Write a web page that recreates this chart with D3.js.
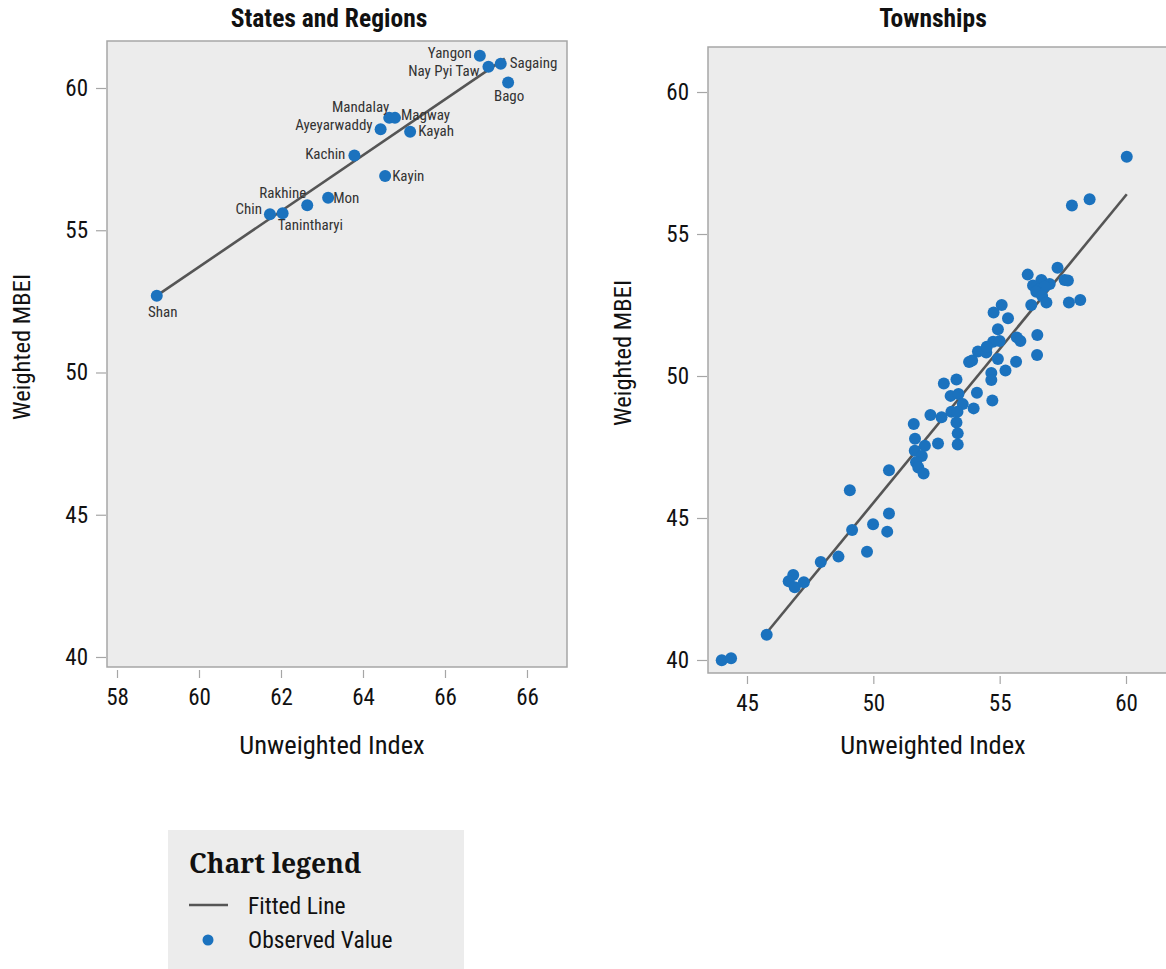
<!DOCTYPE html>
<html>
<head>
<meta charset="utf-8">
<script src="https://cdn.jsdelivr.net/npm/d3@7"></script>
<style>
  html, body { margin: 0; padding: 0; background: #ffffff; }
  svg { display: block; }
  .cond { font-family: 'Roboto Condensed', 'Liberation Sans Narrow', 'DejaVu Sans Condensed', Roboto, sans-serif; }
</style>
</head>
<body>
<svg id="chart" width="1166" height="969"></svg>
<script>
// ---------------- data ----------------
const stateNames = ["Yangon", "Nay Pyi Taw", "Sagaing", "Bago", "Mandalay", "Magway", "Ayeyarwaddy", "Kayah",
                    "Kachin", "Kayin", "Mon", "Rakhine", "Tanintharyi", "Chin", "Shan"];
const stateX = [66.85, 67.06, 67.36, 67.54, 64.64, 64.78, 64.43, 65.15, 63.79, 64.54, 63.15, 62.64, 62.04, 61.73, 58.97];
const stateY = [61.13, 60.75, 60.85, 60.19, 58.95, 58.95, 58.55, 58.46, 57.63, 56.91, 56.14, 55.88, 55.60, 55.56, 52.70];
const stateFitX = [58.97, 67.46];
const stateFitY = [52.70, 61.03];

const townX = [60.03, 58.56, 57.86, 57.29, 56.11, 56.65, 56.98, 56.32, 57.57, 57.70,
               56.56, 56.78, 56.45, 56.68, 56.85, 56.25, 57.74, 58.19, 55.08, 54.76,
               55.33, 54.93, 56.49, 55.68, 55.82, 54.74, 55.00, 56.48, 54.14, 54.47,
               54.49, 53.79, 53.91, 54.93, 55.65, 54.67, 54.67, 55.23, 53.29, 52.79,
               54.10, 54.71, 53.06, 53.37, 53.54, 53.97, 53.09, 53.33, 53.29, 53.34,
               53.34, 52.70, 52.26, 51.60, 51.65, 52.04, 52.56, 51.64, 51.92, 51.69,
               51.78, 51.99, 50.62, 49.07, 49.16, 49.99, 50.62, 50.55, 49.75, 48.62,
               47.92, 46.83, 46.65, 46.89, 47.25, 45.78, 44.00, 44.37];
const townY = [57.72, 56.22, 56.00, 53.81, 53.57, 53.38, 53.24, 53.19, 53.38, 53.36,
               53.05, 53.14, 52.97, 52.82, 52.59, 52.50, 52.59, 52.68, 52.50, 52.24,
               52.03, 51.65, 51.44, 51.36, 51.23, 51.21, 51.23, 50.74, 50.86, 50.83,
               51.03, 50.49, 50.55, 50.60, 50.50, 50.11, 49.86, 50.19, 49.88, 49.74,
               49.41, 49.14, 49.30, 49.37, 49.01, 48.86, 48.74, 48.74, 48.36, 47.98,
               47.59, 48.55, 48.63, 48.31, 47.79, 47.54, 47.62, 47.37, 47.18, 46.96,
               46.78, 46.57, 46.68, 45.98, 44.58, 44.78, 45.16, 44.52, 43.81, 43.64,
               43.45, 42.99, 42.77, 42.56, 42.74, 40.89, 39.99, 40.06];
const townFitX = [45.78, 60.03];
const townFitY = [40.96, 56.40];

const yTicks = [40, 45, 50, 55, 60];
const yTickLabels = ["40", "45", "50", "55", "60"];
const stateXTicks = [58, 60, 62, 64, 66, 68];
const stateXTickLabels = ["58", "60", "62", "64", "66", "66"];
const townXTicks = [45, 50, 55, 60];
const townXTickLabels = ["45", "50", "55", "60"];

const panelTitles = ["States and Regions", "Townships"];
const xTitle = "Unweighted Index";
const yTitle = "Weighted MBEI";
const legendTitle = "Chart legend";
const legendItems = ["Fitted Line", "Observed Value"];

// label placement (pixel offsets from the point): [dx, dy, anchor]
const stateLabelLayout = [
  [-8, -3, "end"], [-9, 4, "end"], [9, -1, "start"], [1, 13, "middle"],
  [0, -11, "end"], [6, -3, "start"], [-8, -4, "end"], [8, -1, "start"],
  [-9, -2, "end"], [7, 0, "start"], [5, 0, "start"], [-1, -12, "end"],
  [-5, 12, "start"], [-8, -6, "end"], [6, 16, "middle"]
];

// ---------------- styles ----------------
const DOT = "#1b72be";
const LINE = "#555555";
const PANEL_BG = "#ececec";
const BORDER = "#a6a6a6";
const TEXT = "#111111";

const svg = d3.select("#chart");

function panel(cfg) {
  const x = d3.scaleLinear().domain(cfg.xDomain).range([cfg.left, cfg.right]);
  const y = d3.scaleLinear().domain(cfg.yDomain).range([cfg.bottom, cfg.top]);
  const g = svg.append("g");

  g.append("rect")
    .attr("x", cfg.left).attr("y", cfg.top)
    .attr("width", cfg.right - cfg.left).attr("height", cfg.bottom - cfg.top)
    .attr("fill", PANEL_BG).attr("stroke", BORDER).attr("stroke-width", 1.5);

  // y axis
  const yAxis = d3.axisLeft(y).tickValues(yTicks).tickSize(10).tickPadding(8)
    .tickFormat((d, i) => cfg.yTickLabels[i]);
  const ya = g.append("g").attr("transform", `translate(${cfg.left - 1},0)`).call(yAxis);
  ya.select(".domain").remove();
  ya.selectAll(".tick line").attr("stroke", BORDER).attr("stroke-width", 1.2);
  ya.selectAll(".tick text").attr("class", "cond").attr("font-size", 23).attr("fill", TEXT);

  // x axis
  const xAxis = d3.axisBottom(x).tickValues(cfg.xTicks).tickSize(8).tickPadding(11)
    .tickFormat((d, i) => cfg.xTickLabels[i]);
  const xa = g.append("g").attr("transform", `translate(0,${cfg.bottom + 3})`).call(xAxis);
  xa.select(".domain").remove();
  xa.selectAll(".tick line").attr("stroke", BORDER).attr("stroke-width", 1.2);
  xa.selectAll(".tick text").attr("class", "cond").attr("font-size", 23).attr("fill", TEXT);

  // titles
  g.append("text").attr("class", "cond")
    .attr("x", cfg.titleX).attr("y", 27)
    .attr("text-anchor", "middle").attr("font-weight", "bold").attr("font-size", 25.5)
    .attr("fill", TEXT).text(cfg.title);
  g.append("text").attr("class", "cond")
    .attr("x", (cfg.left + cfg.right) / 2 - 5).attr("y", 754)
    .attr("text-anchor", "middle").attr("font-size", 26.5).attr("fill", TEXT).text(xTitle);
  g.append("text").attr("class", "cond")
    .attr("transform", `translate(${cfg.yTitleX},${(cfg.top + cfg.bottom) / 2 - 7}) rotate(-90)`)
    .attr("text-anchor", "middle").attr("font-size", 24.5).attr("fill", TEXT).text(yTitle);

  // fitted line
  const line = d3.line().x(d => x(d[0])).y(d => y(d[1]));
  g.append("path")
    .datum(cfg.fitX.map((v, i) => [v, cfg.fitY[i]]))
    .attr("d", line).attr("fill", "none").attr("stroke", LINE).attr("stroke-width", 2.6);

  // points
  const pts = cfg.px.map((v, i) => ({x: v, y: cfg.py[i], i}));
  g.append("g").selectAll("circle").data(pts).join("circle")
    .attr("cx", d => x(d.x)).attr("cy", d => y(d.y)).attr("r", 6)
    .attr("fill", DOT);

  if (cfg.names) {
    g.append("g").selectAll("text").data(pts).join("text")
      .attr("class", "cond")
      .attr("x", d => x(d.x) + cfg.layout[d.i][0])
      .attr("y", d => y(d.y) + cfg.layout[d.i][1])
      .attr("dy", "0.35em")
      .attr("text-anchor", d => cfg.layout[d.i][2])
      .attr("font-size", 15).attr("fill", "#333333")
      .text(d => cfg.names[d.i]);
  }
}

panel({
  left: 107, right: 567, top: 41, bottom: 667,
  xDomain: [57.756, 68.976], yDomain: [39.648, 61.652],
  xTicks: stateXTicks, xTickLabels: stateXTickLabels, yTickLabels: yTickLabels,
  title: panelTitles[0], titleX: 329, yTitleX: 30,
  fitX: stateFitX, fitY: stateFitY, px: stateX, py: stateY,
  names: stateNames, layout: stateLabelLayout
});

panel({
  left: 708, right: 1168, top: 47, bottom: 673,
  xDomain: [43.457, 61.662], yDomain: [39.542, 61.585],
  xTicks: townXTicks, xTickLabels: townXTickLabels, yTickLabels: yTickLabels,
  title: panelTitles[1], titleX: 933, yTitleX: 631,
  fitX: townFitX, fitY: townFitY, px: townX, py: townY
});

// legend
const lg = svg.append("g");
lg.append("rect").attr("x", 168).attr("y", 830).attr("width", 296).attr("height", 140).attr("fill", PANEL_BG);
lg.append("text").attr("x", 189).attr("y", 873)
  .attr("font-family", "'Noto Serif', 'DejaVu Serif', 'Liberation Serif', serif")
  .attr("font-weight", "bold").attr("font-size", 26.5).attr("fill", TEXT).text(legendTitle);
lg.append("line").attr("x1", 189).attr("x2", 228).attr("y1", 905).attr("y2", 905)
  .attr("stroke", LINE).attr("stroke-width", 2.6);
lg.append("circle").attr("cx", 208).attr("cy", 940).attr("r", 5.5).attr("fill", DOT);
lg.selectAll("text.item").data(legendItems).join("text")
  .attr("class", "cond item")
  .attr("x", 248).attr("y", (d, i) => 906 + i * 34).attr("dy", "0.35em")
  .attr("font-size", 23.5).attr("fill", TEXT).text(d => d);
</script>
</body>
</html>
